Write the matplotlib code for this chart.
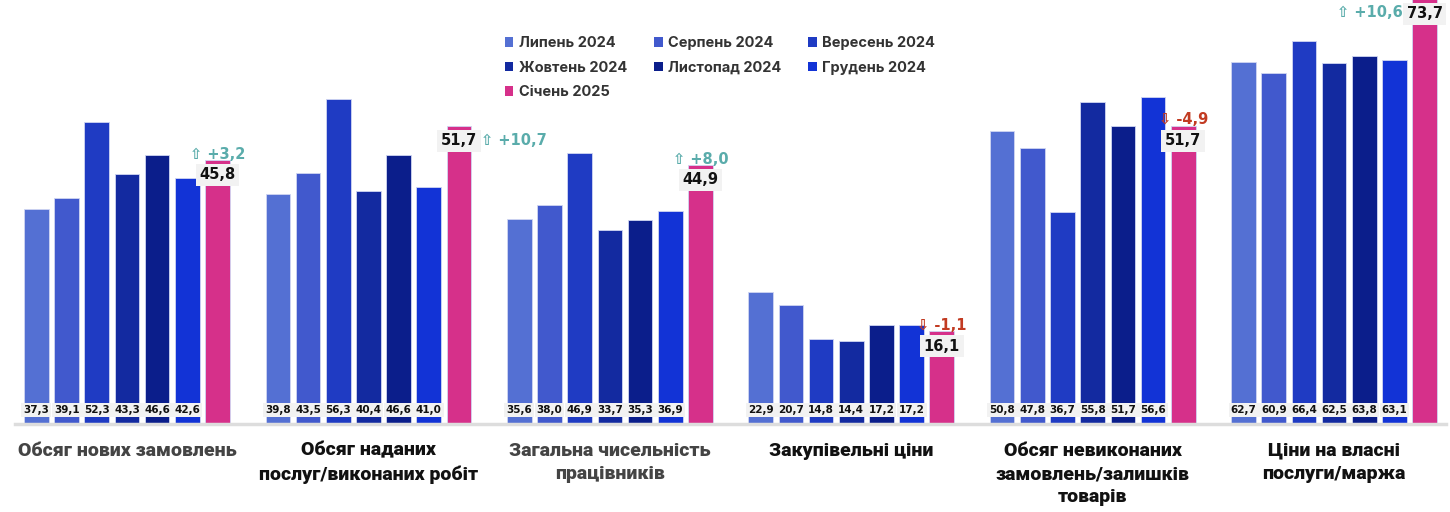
import matplotlib
matplotlib.use("Agg")
import matplotlib.pyplot as plt
from matplotlib.patches import Patch
import numpy as np

categories = [
    "Обсяг нових замовлень",
    "Обсяг наданих\nпослуг/виконаних робіт",
    "Загальна чисельність\nпрацівників",
    "Закупівельні ціни",
    "Обсяг невиконаних\nзамовлень/залишків\nтоварів",
    "Ціни на власні\nпослуги/маржа",
]
months = ["Липень 2024", "Серпень 2024", "Вересень 2024", "Жовтень 2024",
          "Листопад 2024", "Грудень 2024", "Січень 2025"]

jul24 = [37.3, 39.8, 35.6, 22.9, 50.8, 62.7]
aug24 = [39.1, 43.5, 38.0, 20.7, 47.8, 60.9]
sep24 = [52.3, 56.3, 46.9, 14.8, 36.7, 66.4]
oct24 = [43.3, 40.4, 33.7, 14.4, 55.8, 62.5]
nov24 = [46.6, 46.6, 35.3, 17.2, 51.7, 63.8]
dec24 = [42.6, 41.0, 36.9, 17.2, 56.6, 63.1]
jan25 = [45.8, 51.7, 44.9, 16.1, 51.7, 73.7]
changes = ["⇧ +3,2", "⇧ +10,7", "⇧ +8,0", "⇩ -1,1", "⇩ -4,9", "⇧ +10,6"]

colors = ["#5470d3", "#4159cd", "#1f3bc3", "#132aa0", "#0b1e8b", "#1233d6", "#d6308a"]
cat_colors = ["#444444", "#111111", "#444444", "#111111", "#111111", "#111111"]
series = [jul24, aug24, sep24, oct24, nov24, dec24, jan25]

def fmt(v):
    return f"{v:.1f}".replace(".", ",")

fig = plt.figure(figsize=(14.5, 5.12), dpi=100)
ax = fig.add_axes([0, 0.172, 1, 0.828])

x = np.arange(len(categories))
step = 0.125
width = 0.102
for j, (vals, c) in enumerate(zip(series, colors)):
    xs = x + (j - 3) * step
    ax.bar(xs, vals, width=width, color=c, edgecolor="#d0d6f2", linewidth=0.6, zorder=2)
    if j < 6:
        for xi, v in zip(xs, vals):
            ax.text(xi, 2.4, fmt(v), ha="center", va="center", fontsize=7.5,
                    fontweight="bold", color="#111111", zorder=4,
                    bbox=dict(boxstyle="square,pad=0.2", fc="#f2f2f2", ec="none"))

# highlighted January values and changes
for i, v in enumerate(jan25):
    xp = x[i] + 3 * step
    ax.text(xp, v - 2.6, fmt(v), ha="center", va="center", fontsize=10.5,
            fontweight="bold", color="#111111", zorder=5,
            bbox=dict(boxstyle="square,pad=0.25", fc="#f2f2f2", ec="none"))
    col = "#5aacab" if changes[i].startswith("⇧") else "#c23b22"
    if i == 1:
        ax.text(xp + 0.09, v - 2.6, changes[i], ha="left", va="center",
                fontsize=10.5, fontweight="bold", color=col, zorder=5)
    elif i == 5:
        ax.text(xp - 0.09, v - 2.4, changes[i], ha="right", va="center",
                fontsize=10.5, fontweight="bold", color=col, zorder=5)
    else:
        ax.text(xp, v + 1.0, changes[i], ha="center", va="center",
                fontsize=10.5, fontweight="bold", color=col, zorder=5)

ax.set_xlim(-0.526, 5.48)
ax.set_ylim(0, 73.5)
ax.axhline(0, xmin=0.01, xmax=0.997, color="#dddddd", lw=2.5, zorder=3, clip_on=False)
ax.axis("off")

for i, (cat, cc) in enumerate(zip(categories, cat_colors)):
    ax.text(x[i], -3.1, cat, ha="center", va="top", fontsize=14, fontweight="heavy",
            color=cc, linespacing=1.38, family=["Roboto", "DejaVu Sans"])

# legend is filled row by row in the reference
order = [0, 3, 6, 1, 4, 2, 5]
handles = [Patch(facecolor=colors[k], edgecolor="none") for k in order]
labels = [months[k] for k in order]
fig.legend(handles, labels, loc="upper left", bbox_to_anchor=(0.339, 0.955), ncol=3,
           frameon=False, handlelength=0.6, handleheight=0.6, handletextpad=0.4,
           columnspacing=1.8, labelspacing=0.72,
           prop=dict(family=["Inter", "DejaVu Sans"], weight="bold", size=10.5),
           labelcolor="#333333")

fig.savefig("out.png", dpi=100)
